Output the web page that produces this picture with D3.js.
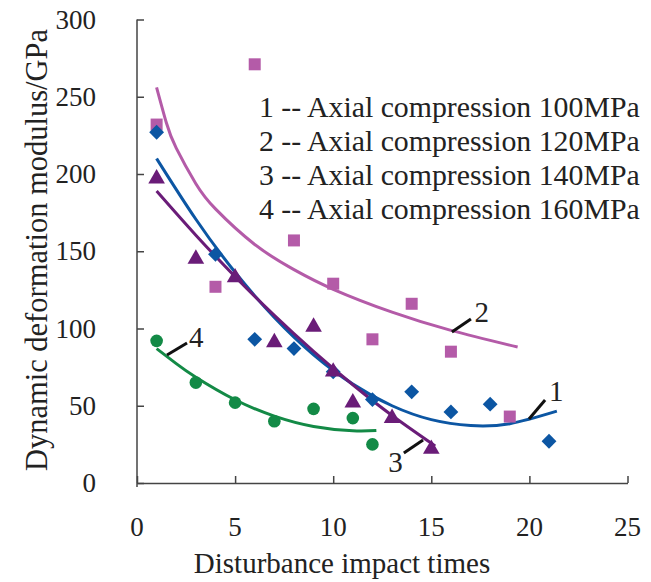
<!DOCTYPE html>
<html><head><meta charset="utf-8">
<script src="https://cdn.jsdelivr.net/npm/d3@7"></script>
<style>body{margin:0;background:#fff}svg{display:block}</style>
</head><body><svg id="c" width="651" height="582" font-family="'Liberation Serif', 'Times New Roman', 'DejaVu Serif', serif"></svg>
<script>
// ---- data ----
const xTicks = [0,5,10,15,20,25];
const yTicks = [0,50,100,150,200,250,300];
const seriesNames = ["1 -- Axial compression 100MPa","2 -- Axial compression 120MPa","3 -- Axial compression 140MPa","4 -- Axial compression 160MPa"];
const s1x = [1,4,6,8,10,12,14,16,18,21];
const s1y = [227,148,93,87,72,54,59,46,51,27];
const s2x = [1,4,6,8,10,12,14,16,19];
const s2y = [232,127,271,157,129,93,116,85,43];
const s3x = [1,3,5,7,9,10,11,13,15];
const s3y = [197,145,133,91,101,72,52,42,22];
const s4x = [1,3,5,7,9,11,12];
const s4y = [92,65,52,40,48,42,25];
// fitted trend curves
const f1x = [1,3,5,7,9,11,13,15,17,19,21.4];
const f1y = [210,170.7,136.4,107.2,83,64,50,41,37.2,38.4,46.5];
const f2x = [1,1.5,2,3,4,6,8,10,13,16,19.4];
const f2y = [256,233,216.7,193.7,177.4,154.4,138.1,125.4,110.6,98.8,88];
const f3x = [1,3,5,7,9,11,13,15.2];
const f3y = [189,160.4,133.6,108.5,85.2,63.6,43.7,24];
const f4x = [1,2,3,5,7,9,11,12.2];
const f4y = [87,77.3,68.5,53.9,43.3,36.6,33.8,34];
// curve labels: leader line start/end and label position
const labelText = ["1","2","3","4"];
const leadX0 = [19.98,16.05,13.6,1.53];
const leadY0 = [41.4,97.7,19.4,82.8];
const leadX1 = [20.8,17.02,14.58,2.55];
const leadY1 = [53.7,106.1,27.8,90.6];
const labX = [21.0,17.2,12.8,2.65];
const labY = [53,104,7,88];

const colors = ["#0c56a3","#b45ba8","#6a1c78","#138a46"];

const svg = d3.select("#c");
const x = d3.scaleLinear().domain([0,25]).range([137,627.5]);
const y = d3.scaleLinear().domain([0,300]).range([483,19.5]);
const txt = "#222";

// axes
const axisColor = "#444";
const gx = svg.append("g").attr("transform","translate(0,483)")
  .call(d3.axisBottom(x).tickValues(xTicks).tickSizeInner(-7).tickSizeOuter(0).tickFormat(""));
const gy = svg.append("g").attr("transform","translate(137,0)")
  .call(d3.axisLeft(y).tickValues(yTicks).tickSizeInner(-7).tickSizeOuter(0).tickFormat(""));
[gx,gy].forEach(g=>{g.selectAll("path,line").attr("stroke",axisColor).attr("stroke-width",1.5);});
gy.select(".domain").attr("d","M0,"+y(300)+"V"+(y(0)+4));

// tick labels
svg.append("g").selectAll("text").data(xTicks).join("text")
  .attr("x",d=>x(d)).attr("y",536).attr("text-anchor","middle").attr("font-size",27).attr("fill",txt).text(d=>d);
svg.append("g").selectAll("text").data(yTicks).join("text")
  .attr("x",96).attr("y",d=>y(d)+9).attr("text-anchor","end").attr("font-size",27).attr("fill",txt).text(d=>d);

// axis titles
svg.append("text").attr("x",342).attr("y",573).attr("text-anchor","middle").attr("font-size",29).attr("fill",txt).text("Disturbance impact times");
svg.append("text").attr("transform","translate(47,250) rotate(-90)").attr("text-anchor","middle").attr("font-size",30.5).attr("fill",txt).text("Dynamic deformation modulus/GPa");

// trend curves
const line = d3.line().x(d=>x(d[0])).y(d=>y(d[1])).curve(d3.curveNatural);
const fits = [[f1x,f1y],[f2x,f2y],[f3x,f3y],[f4x,f4y]];
fits.forEach((f,i)=>{
  svg.append("path").datum(f[0].map((v,j)=>[v,f[1][j]])).attr("d",line)
    .attr("fill","none").attr("stroke",colors[i]).attr("stroke-width",3);
});

// markers
const diamond = {draw(ctx,size){const r=Math.sqrt(size/2);ctx.moveTo(0,-r);ctx.lineTo(r,0);ctx.lineTo(0,r);ctx.lineTo(-r,0);ctx.closePath();}};
const symbols = [diamond,d3.symbolSquare,d3.symbolTriangle,d3.symbolCircle];
const sizes = [110,144,120,125];
const pts = [[s1x,s1y],[s2x,s2y],[s3x,s3y],[s4x,s4y]];
[3,1,0,2].forEach(i=>{
  const p = pts[i];
  svg.append("g").selectAll("path").data(p[0].map((v,j)=>[v,p[1][j]])).join("path")
    .attr("transform",d=>"translate("+x(d[0])+","+y(d[1])+")")
    .attr("d",d3.symbol().type(symbols[i]).size(sizes[i]))
    .attr("fill",colors[i]);
});

// curve labels
labelText.forEach((t,i)=>{
  svg.append("line").attr("x1",x(leadX0[i])).attr("y1",y(leadY0[i])).attr("x2",x(leadX1[i])).attr("y2",y(leadY1[i]))
    .attr("stroke","#111").attr("stroke-width",3);
  svg.append("text").attr("x",x(labX[i])).attr("y",y(labY[i])).attr("font-size",29).attr("fill",txt).text(t);
});

// legend
svg.append("g").selectAll("text").data(seriesNames).join("text")
  .attr("x",259).attr("y",(d,i)=>117+i*34).attr("font-size",29.8).attr("fill",txt).text(d=>d);
</script></body></html>
